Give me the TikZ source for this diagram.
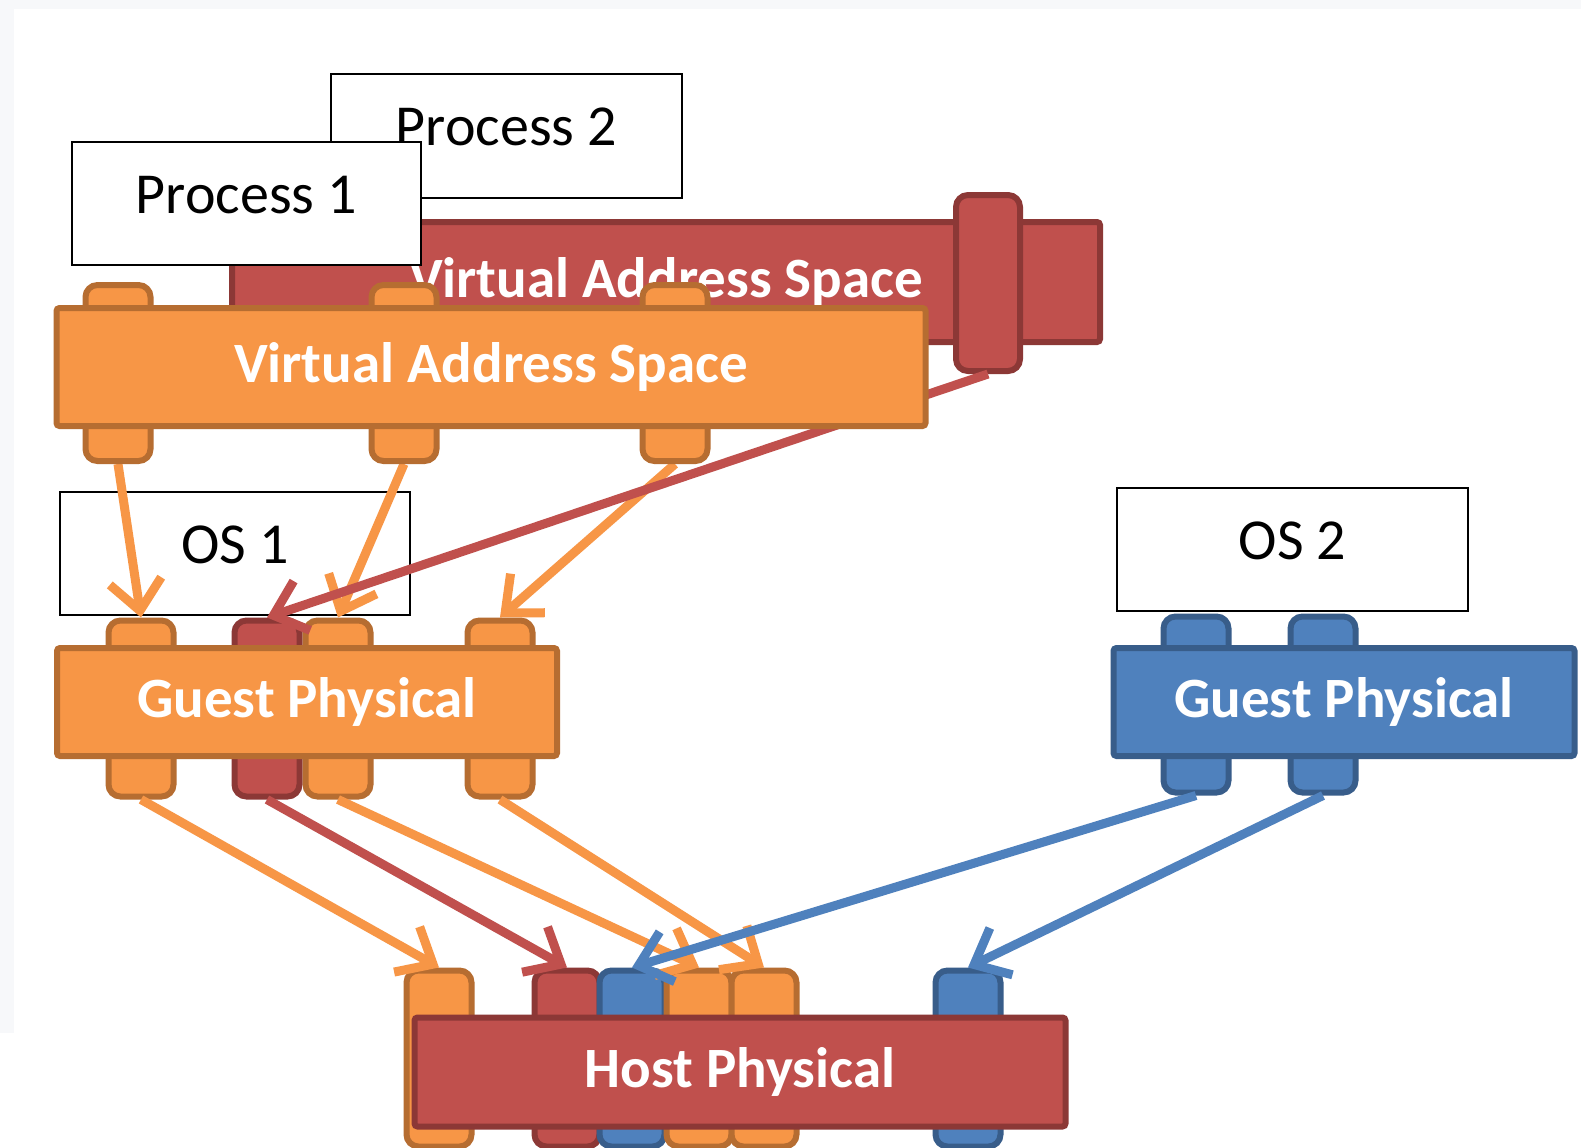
\documentclass[tikz,border=0pt]{standalone}
\usepackage{fontspec}
\setmainfont{Carlito}
\usepackage{tikz}
\usepackage{xcolor}
\usetikzlibrary{
  positioning, arrows.meta,
}
\definecolor{cOrange}    {HTML}{F79646}
\definecolor{cOrangeEdge}{HTML}{B66D31}
\definecolor{cRed}       {HTML}{C0504D}
\definecolor{cRedEdge}   {HTML}{8C3836}
\definecolor{cBlue}      {HTML}{4F81BD}
\definecolor{cBlueEdge}  {HTML}{385D8A}
\definecolor{cFrame}     {HTML}{F7F8FA}
\pgfdeclarelayer{front}
\pgfsetlayers{main,front}

\begin{document}
\begin{tikzpicture}[x=0.5pt, y=-0.5pt,
    procbox/.style={draw=black, fill=white, line width=1.3pt, inner sep=0pt,
      minimum width=175pt, minimum height=61.5pt,
      font=\fontsize{29}{31}\selectfont, text height=20pt, text depth=10.5pt},
    bar/.style={line width=3pt, inner sep=0pt, rounded corners=1.5pt,
      text=white, font=\bfseries\fontsize{28.5}{30}\selectfont},
    tab/.style={line width=3pt, inner sep=0pt, rounded corners=6pt,
      minimum width=32.5pt, minimum height=88pt},
    tabO/.style={tab, fill=cOrange, draw=cOrangeEdge},
    tabR/.style={tab, fill=cRed, draw=cRedEdge},
    tabB/.style={tab, fill=cBlue, draw=cBlueEdge},
    maparrow/.style={-{Straight Barb[length=15pt, width=26pt]}, line width=4.5pt},
  ]
  \useasboundingbox (0,0) rectangle (1581,1147);
  % frame
  \fill[white] (0,0) rectangle (1581,1147);
  \fill[cFrame] (0,0) rectangle (1581,9);
  \fill[cFrame] (0,0) rectangle (14,1033);
  % process 2 and its address space
  \node[procbox, minimum width=175.5pt, minimum height=62pt] (proc2) at (506.5,136) {Process 2};
  \node[bar, fill=cRed, draw=cRedEdge, minimum width=434pt, minimum height=60pt]
        (vas2) at (666,282) {Virtual Address Space};
  \node[tabR, minimum width=32pt] (rt1) at (988,283) {};
  % process 1
  \node[procbox, minimum width=174.5pt] (proc1) at (246.5,203.5) {Process 1};
  \begin{pgfonlayer}{front}
    \foreach \t/\xoff in {1/118, 2/404, 3/675}{
      \node[tabO] (vt\t) at (\xoff,373) {};
    }
    \node[bar, fill=cOrange, draw=cOrangeEdge, minimum width=434.5pt, minimum height=59pt]
          (vas1) at (491,367) {Virtual Address Space};
  \end{pgfonlayer}
  % operating systems
  \node[procbox] (os1) at (235,553.5) {OS 1};
  \node[procbox, minimum width=175.5pt] (os2) at (1292.5,549.5) {OS 2};
  % host physical
  \foreach \t/\xoff/\c in {1/439/O, 2/567/R, 3/632/B, 4/699/O, 5/764/O, 6/968/B}{
    \node[tab\c] (ht\t) at (\xoff,1058.5) {};
  }
  \node[bar, fill=cRed, draw=cRedEdge, minimum width=325.5pt, minimum height=54.5pt]
        (host) at (740,1072) {Host Physical};
  % guest physical
  \foreach \t/\xoff/\c in {1/141/O, 2/267/R, 3/338/O, 4/500/O}{
    \node[tab\c] (gt\t) at (\xoff,708.5) {};
  }
  \node[bar, fill=cOrange, draw=cOrangeEdge, minimum width=250pt, minimum height=54pt]
        (guest1) at (307,702) {Guest Physical};
  \foreach \t/\xoff in {1/1196, 2/1323}{
    \node[tabB] (bt\t) at (\xoff,704.5) {};
  }
  \node[bar, fill=cBlue, draw=cBlueEdge, minimum width=230.5pt, minimum height=54pt]
        (guest2) at (1344,702) {Guest Physical};
  % virtual -> guest
  \draw[maparrow, cOrange] (vt1.south) -- (gt1.north);
  \draw[maparrow, cOrange] (vt2.south) -- (gt3.north);
  \draw[maparrow, cOrange] (vt3.south) -- (gt4.north);
  \draw[maparrow, cRed] (rt1.south) -- (gt2.north);
  % guest -> host
  \draw[maparrow, cOrange] (gt1.south) -- (ht1.north);
  \draw[maparrow, cRed] (gt2.south) -- (ht2.north);
  \draw[maparrow, cOrange] (gt3.south) -- (ht4.north);
  \draw[maparrow, cOrange] (gt4.south) -- (ht5.north);
  \draw[maparrow, cBlue] (bt1.south) -- (ht3.north);
  \draw[maparrow, cBlue] (bt2.south) -- (ht6.north);
\end{tikzpicture}
\end{document}
